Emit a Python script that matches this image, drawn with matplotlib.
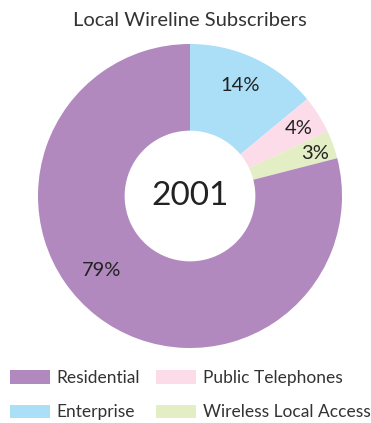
import numpy as np
import matplotlib
matplotlib.use('Agg')
import matplotlib.pyplot as plt
from matplotlib.patches import Patch

plt.rcParams['font.family'] = ['Lato', 'DejaVu Sans']

# data
categories = ['Enterprise', 'Public Telephones', 'Wireless Local Access', 'Residential']
shares = [14, 4, 3, 79]
colors = ['#aadff7', '#fcdce8', '#e3eec5', '#b189bf']
year = '2001'
title = 'Local Wireline Subscribers'
legend_order = ['Residential', 'Enterprise', 'Public Telephones', 'Wireless Local Access']

# label placement (radius, angle) in axis units
lab_r = [0.80, 0.84, 0.87, 0.76]
lab_ang = [65.7, 32.0, 18.6, 220.0]

fig = plt.figure(figsize=(3.71, 4.23), dpi=100)
ax = fig.add_axes([38/371, 75/423, 304/371, 304/423])

wedges, _ = ax.pie(shares, colors=colors, startangle=90, counterclock=False,
                   radius=1.0, wedgeprops=dict(width=1 - 0.43, linewidth=0))
for i, s in enumerate(shares):
    a = np.deg2rad(lab_ang[i])
    ax.text(lab_r[i]*np.cos(a), lab_r[i]*np.sin(a), '%d%%' % s,
            ha='center', va='center', fontsize=14.5, color='#222222')
ax.text(0, 0, year, ha='center', va='center', fontsize=24, color='#222222')
ax.set_xlim(-1, 1)
ax.set_ylim(-1, 1)
ax.set_aspect('equal')
ax.axis('off')

fig.text(190/371, 1 - 20/423, title, ha='center', va='center',
         fontsize=14.5, color='#333333')

cmap = dict(zip(categories, colors))
handles = [Patch(facecolor=cmap[c], edgecolor='none') for c in legend_order]
fig.legend(handles, legend_order, ncol=2, loc='upper left',
           bbox_to_anchor=(10/371, 1 - 370/423), frameon=False, fontsize=12.5,
           handlelength=2.3, handleheight=0.8, handletextpad=0.4,
           columnspacing=0.9, labelspacing=1.05, borderaxespad=0,
           borderpad=0, labelcolor='#333333')

fig.savefig('out.png', dpi=100)
